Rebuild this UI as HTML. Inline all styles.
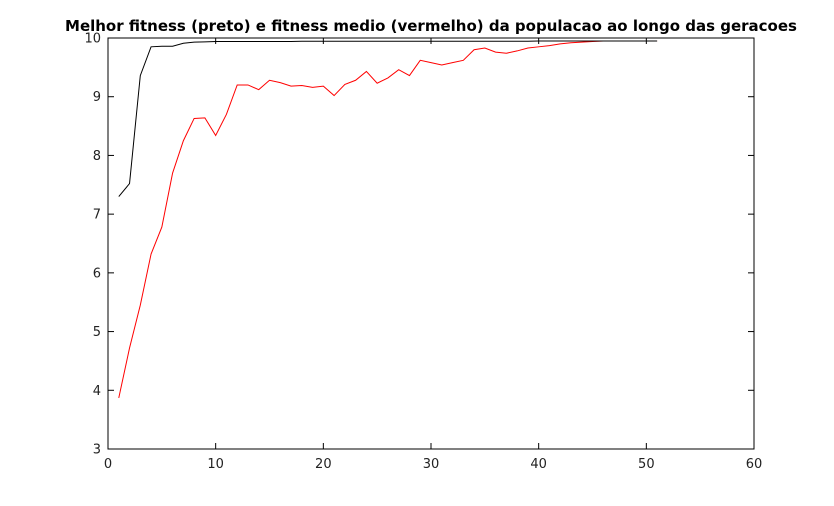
<!DOCTYPE html>
<html><head><meta charset="utf-8">
<style>
html,body{margin:0;padding:0;background:#fff;}
svg{display:block;font-family:"DejaVu Sans","Liberation Sans",sans-serif;}
</style></head>
<body>
<svg id="chart" width="834" height="506" viewBox="0 0 834 506">
<text x="431" y="31" text-anchor="middle" font-size="15" font-weight="bold" fill="#000">Melhor fitness (preto) e fitness medio (vermelho) da populacao ao longo das geracoes</text>
<g id="axes"></g>
<g id="series"></g>
</svg>
<script>
const generations = [1,2,3,4,5,6,7,8,9,10,11,12,13,14,15,16,17,18,19,20,21,22,23,24,25,26,27,28,29,30,31,32,33,34,35,36,37,38,39,40,41,42,43,44,45,46,47,48,49,50,51];
const bestFitness = [7.3,7.52,9.36,9.85,9.86,9.86,9.91,9.93,9.935,9.94,9.94,9.94,9.94,9.94,9.94,9.94,9.94,9.945,9.945,9.945,9.945,9.945,9.945,9.945,9.945,9.945,9.945,9.945,9.945,9.945,9.945,9.945,9.945,9.945,9.945,9.945,9.945,9.945,9.945,9.95,9.95,9.95,9.95,9.95,9.95,9.95,9.95,9.95,9.95,9.95,9.95];
const meanFitness = [3.87,4.72,5.45,6.32,6.78,7.7,8.25,8.63,8.64,8.34,8.7,9.2,9.2,9.12,9.28,9.24,9.18,9.19,9.16,9.18,9.02,9.21,9.28,9.43,9.23,9.32,9.46,9.36,9.62,9.58,9.54,9.58,9.62,9.8,9.83,9.76,9.74,9.78,9.83,9.85,9.87,9.9,9.92,9.93,9.94,9.95,9.95,9.95,9.95,9.95,9.95];
const xTicks = [0,10,20,30,40,50,60];
const yTicks = [3,4,5,6,7,8,9,10];

const NS = "http://www.w3.org/2000/svg";
const L = 108, R = 754, T = 38, B = 449;
const xMin = 0, xMax = 60, yMin = 3, yMax = 10;
function xs(v){ return L + (v - xMin) / (xMax - xMin) * (R - L); }
function ys(v){ return B - (v - yMin) / (yMax - yMin) * (B - T); }
function mk(tag, attrs, parent){
  const e = document.createElementNS(NS, tag);
  for (const k in attrs) e.setAttribute(k, attrs[k]);
  parent.appendChild(e);
  return e;
}
const axes = document.getElementById('axes');
const frame = mk('rect', {x:L, y:T, width:R-L, height:B-T, fill:'none', stroke:'#000', 'stroke-width':1}, axes);


xTicks.forEach(v => {
  const x = xs(v);
  mk('line', {x1:x, y1:B, x2:x, y2:B-6, stroke:'#000'}, axes);
  mk('line', {x1:x, y1:T, x2:x, y2:T+6, stroke:'#000'}, axes);
  const t = mk('text', {x:x, y:B+19, 'text-anchor':'middle', 'font-size':13, fill:'#222'}, axes);
  t.textContent = v;
  
  
});
yTicks.forEach(v => {
  const y = ys(v);
  mk('line', {x1:L, y1:y, x2:L+6, y2:y, stroke:'#000'}, axes);
  mk('line', {x1:R, y1:y, x2:R-6, y2:y, stroke:'#000'}, axes);
  const t = mk('text', {x:L-7, y:y+4.5, 'text-anchor':'end', 'font-size':13, fill:'#222'}, axes);
  t.textContent = v;
  
  
});
const series = document.getElementById('series');
function line(vals, color, name){
  const pts = generations.map((g,i) => xs(g).toFixed(2) + ',' + ys(vals[i]).toFixed(2)).join(' ');
  const p = mk('polyline', {points:pts, fill:'none', stroke:color, 'stroke-width':1}, series);
  
  
}
line(meanFitness, '#ff0000', 'mean-fitness-line');
line(bestFitness, '#000000', 'best-fitness-line');
</script>
</body></html>
